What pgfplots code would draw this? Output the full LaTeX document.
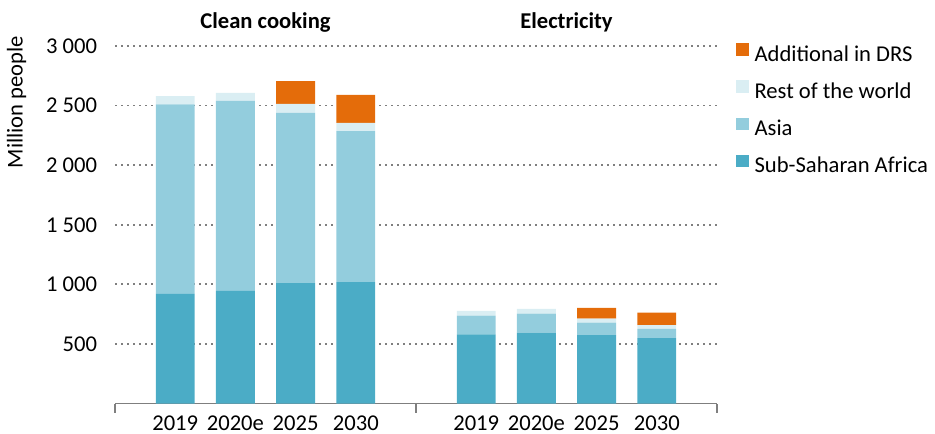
\documentclass[border=0pt]{standalone}
\usepackage{fontspec}
\setmainfont{Carlito}
\usepackage{pgfplots}
\pgfplotsset{compat=1.18}
\usepackage{pgfplotstable}
\definecolor{ssa}{HTML}{4BACC6}
\definecolor{asia}{HTML}{93CDDD}
\definecolor{rotw}{HTML}{DAEEF3}
\definecolor{drs}{HTML}{E46C0A}
\definecolor{axgray}{HTML}{7F7F7F}
\pgfplotstableread{
x ssa asia rotw drs
0 920 1590 70 0
1 945 1595 67 0
2 1010 1430 75 190
3 1020 1265 70 235
5 580 157 40 0
6 595 160 40 0
7 575 104 34 90
8 550 76 33 104
}\data
\begin{document}
\fontsize{11.3}{13.6}\selectfont
\begin{tikzpicture}
\path[use as bounding box] (-57.5pt,-14.7pt) rectangle (410pt,201.8pt);
\begin{axis}[
  at={(0,0)}, anchor=south west,
  scale only axis, width=301pt, height=178.8pt,
  xmin=-1, xmax=9, ymin=0, ymax=3000,
  enlargelimits=false, clip=false,
  ybar stacked, bar width=0.645,
  separate axis lines,
  axis x line*=bottom, axis y line*=left,
  y axis line style={draw=none},
  x axis line style={draw=axgray, line width=0.7pt},
  xtick={0,1,2,3,5,6,7,8},
  xticklabels={2019,2020e,2025,2030,2019,2020e,2025,2030},
  major tick length=0pt,
  tick style={draw=axgray, line width=0.7pt},
  extra x ticks={-1,4,9}, extra x tick labels={},
  extra x tick style={major tick length=4.5pt, tick align=outside},
  xticklabel style={anchor=base, inner sep=0pt, yshift=-13.3pt},
  ytick={500,1000,...,3000},
  ytick style={draw=none},
  ymajorgrids,
  major grid style={draw=axgray, line width=0.9pt, dash pattern=on 0.9pt off 2.1pt},
  yticklabel style={/pgf/number format/1000 sep={\ }, xshift=-5pt},
  /pgf/number format/assume math mode=true,
  reverse legend,
  legend cell align=left,
  legend image code/.code={\fill[#1] (0pt,0pt) rectangle (6.3pt,6.3pt);},
  legend style={at={(1,1)}, anchor=north west, xshift=9.5pt, yshift=1.35pt,
    draw=none, fill=none, inner sep=0pt, outer sep=0pt, row sep=7.0pt,
    nodes={inner sep=0pt, text height=8pt, text depth=2.5pt},
    /tikz/every odd column/.append style={column sep=3pt}},
]
\addplot[fill=ssa, draw=none] table[x=x,y=ssa]{\data};
\addlegendentry{Sub-Saharan Africa}
\addplot[fill=asia, draw=none] table[x=x,y=asia]{\data};
\addlegendentry{Asia}
\addplot[fill=rotw, draw=none] table[x=x,y=rotw]{\data};
\addlegendentry{Rest of the world}
\addplot[fill=drs, draw=none] table[x=x,y=drs]{\data};
\addlegendentry{Additional in DRS}
\node[font=\bfseries] at (axis cs:1.5,3200) {Clean cooking};
\node[font=\bfseries] at (axis cs:6.5,3200) {Electricity};
\node[rotate=90] at ([xshift=-49.25pt]rel axis cs:0,0.843) {Million people};
\end{axis}
\end{tikzpicture}
\end{document}
